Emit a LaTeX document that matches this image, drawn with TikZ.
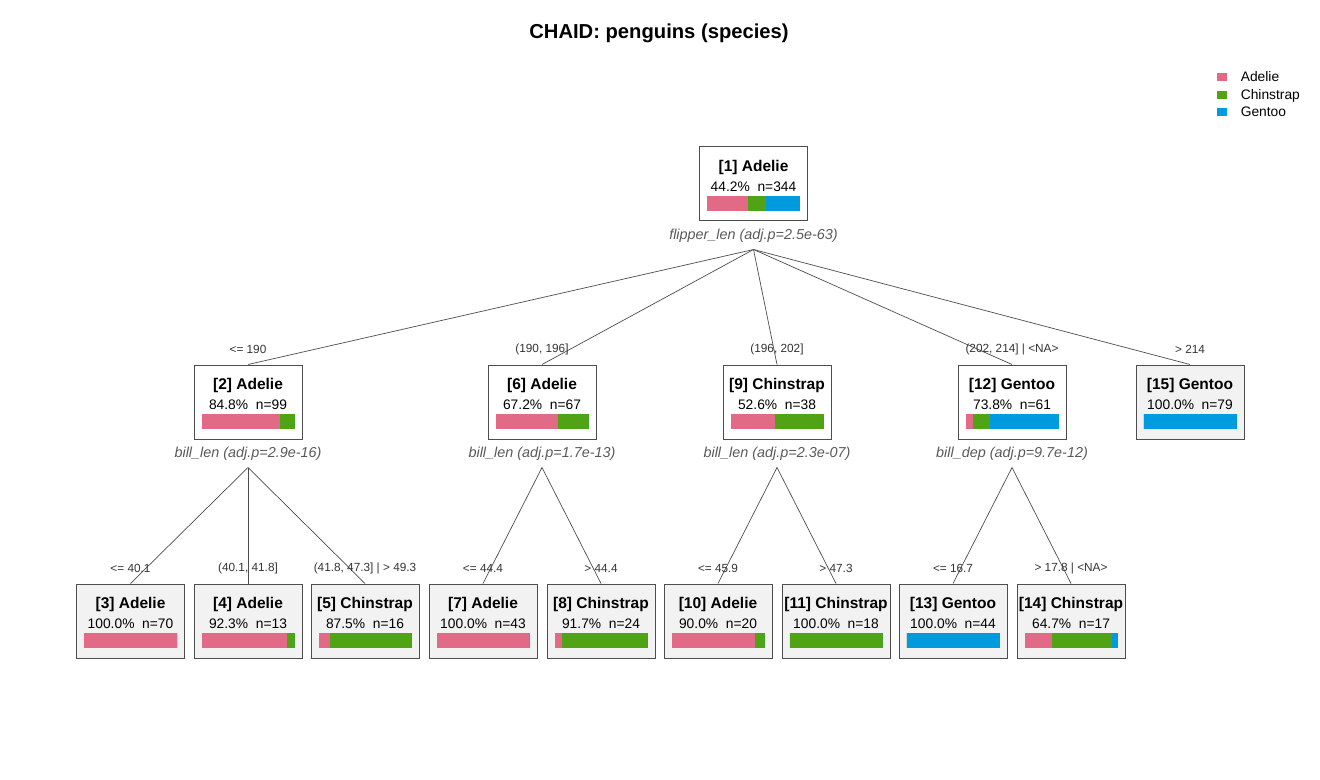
\documentclass[tikz,border=0pt]{standalone}
\usepackage{fontspec}
\setmainfont{Liberation Sans}
\usetikzlibrary{positioning}

\definecolor{adelie}{HTML}{E16A86}
\definecolor{chinstrap}{HTML}{50A315}
\definecolor{gentoo}{HTML}{009ADE}
\definecolor{leafgray}{HTML}{F2F2F2}
\definecolor{boxgray}{HTML}{4D4D4D}

% box with id line, stats line and class bar (counts adelie/chinstrap/gentoo)
\newcommand{\chaidnode}[8]{%
  \node[#2] (#1) at (#3) {};
  \node[ttl] (#1t) at ([yshift=-10.5pt]#1.north) {#4};
  \node[stat] (#1s) at ([yshift=-20.25pt]#1.north) {#5};
  \pgfmathsetmacro\chaidn{#6+#7+#8}
  \fill[adelie] ([xshift=4pt,yshift=-24.75pt]#1.north west) rectangle ++({46.5pt*#6/\chaidn},-7.5pt);
  \fill[chinstrap] ([xshift={4pt+46.5pt*#6/\chaidn},yshift=-24.75pt]#1.north west) rectangle ++({46.5pt*#7/\chaidn},-7.5pt);
  \fill[gentoo] ([xshift={4pt+46.5pt*(#6+#7)/\chaidn},yshift=-24.75pt]#1.north west) rectangle ++({46.5pt*#8/\chaidn},-7.5pt);
}

\begin{document}
\begin{tikzpicture}[x=0.5pt, y=-0.5pt,
    box/.style={rectangle, draw=boxgray, line width=0.5pt, fill=white, minimum width=54pt, minimum height=37pt, inner sep=0pt},
    leaf/.style={box, fill=leafgray},
    ttl/.style={font=\fontsize{7.75}{9}\selectfont\bfseries, inner sep=0pt},
    stat/.style={font=\fontsize{6.9}{8}\selectfont, inner sep=0pt},
    splitlab/.style={font=\fontsize{7.2}{8.5}\selectfont\itshape, text=black!65, inner sep=0pt},
    elab/.style={font=\fontsize{5.9}{7}\selectfont, text=black!80, inner sep=0pt},
    link/.style={draw=black!70, line width=0.35pt},
    key/.style={rectangle, minimum width=5pt, minimum height=4.4pt, inner sep=0pt},
    ltxt/.style={font=\fontsize{6.9}{8}\selectfont, inner sep=0pt, text height=4.9pt, text depth=0pt}
]

\useasboundingbox (0,0) rectangle (1320,780);

% title
\node[font=\fontsize{10.1}{12}\selectfont\bfseries] (title) at (659,33) {CHAID: penguins (species)};

% legend
\node[key, fill=adelie] (kad) at (1222,77) {};
\node[key, fill=chinstrap] (kch) at (1222,95) {};
\node[key, fill=gentoo] (kge) at (1222,112) {};
\node[ltxt, right=6.5pt of kad] (lad) {Adelie};
\node[ltxt, right=6.5pt of kch] (lch) {Chinstrap};
\node[ltxt, right=6.5pt of kge] (lge) {Gentoo};

% inner nodes
\chaidnode{n1}{box}{753.5,184}{[1] Adelie}{44.2\%~~n=344}{152}{68}{124}
\chaidnode{n2}{box}{248,402}{[2] Adelie}{84.8\%~~n=99}{84}{15}{0}
\chaidnode{n6}{box}{542,402}{[6] Adelie}{67.2\%~~n=67}{45}{22}{0}
\chaidnode{n9}{box}{777,402}{[9] Chinstrap}{52.6\%~~n=38}{18}{20}{0}
\chaidnode{n12}{box}{1012,402}{[12] Gentoo}{73.8\%~~n=61}{5}{11}{45}

% leaves
\chaidnode{n15}{leaf}{1190,402}{[15] Gentoo}{100.0\%~~n=79}{0}{0}{79}
\chaidnode{n3}{leaf}{130.5,621}{[3] Adelie}{100.0\%~~n=70}{70}{0}{0}
\chaidnode{n4}{leaf}{248,621}{[4] Adelie}{92.3\%~~n=13}{12}{1}{0}
\chaidnode{n5}{leaf}{365,621}{[5] Chinstrap}{87.5\%~~n=16}{2}{14}{0}
\chaidnode{n7}{leaf}{483,621}{[7] Adelie}{100.0\%~~n=43}{43}{0}{0}
\chaidnode{n8}{leaf}{601,621}{[8] Chinstrap}{91.7\%~~n=24}{2}{22}{0}
\chaidnode{n10}{leaf}{718,621}{[10] Adelie}{90.0\%~~n=20}{18}{2}{0}
\chaidnode{n11}{leaf}{836,621}{[11] Chinstrap}{100.0\%~~n=18}{0}{18}{0}
\chaidnode{n13}{leaf}{953,621}{[13] Gentoo}{100.0\%~~n=44}{0}{0}{44}
\chaidnode{n14}{leaf}{1071,621}{[14] Chinstrap}{64.7\%~~n=17}{5}{11}{1}

% split variables
\node[splitlab] (s1) at ([yshift=-7pt]n1.south) {flipper\_len (adj.p=2.5e-63)};
\node[splitlab] (s2) at ([yshift=-7pt]n2.south) {bill\_len (adj.p=2.9e-16)};
\node[splitlab] (s6) at ([yshift=-7pt]n6.south) {bill\_len (adj.p=1.7e-13)};
\node[splitlab] (s9) at ([yshift=-7pt]n9.south) {bill\_len (adj.p=2.3e-07)};
\node[splitlab] (s12) at ([yshift=-7pt]n12.south) {bill\_dep (adj.p=9.7e-12)};
\coordinate (b1) at ([yshift=-14pt]n1.south);
\coordinate (b2) at ([yshift=-14pt]n2.south);
\coordinate (b6) at ([yshift=-14pt]n6.south);
\coordinate (b9) at ([yshift=-14pt]n9.south);
\coordinate (b12) at ([yshift=-14pt]n12.south);

% edges
\draw[link] (b1) -- (n2.north);
\draw[link] (b1) -- (n6.north);
\draw[link] (b1) -- (n9.north);
\draw[link] (b1) -- (n12.north);
\draw[link] (b1) -- (n15.north);
\draw[link] (b2) -- (n3.north);
\draw[link] (b2) -- (n4.north);
\draw[link] (b2) -- (n5.north);
\draw[link] (b6) -- (n7.north);
\draw[link] (b6) -- (n8.north);
\draw[link] (b9) -- (n10.north);
\draw[link] (b9) -- (n11.north);
\draw[link] (b12) -- (n13.north);
\draw[link] (b12) -- (n14.north);

% edge labels
\node[elab] (e2) at ([yshift=7.5pt]n2.north) {<= 190};
\node[elab] (e6) at ([yshift=7.5pt]n6.north) {(190, 196]};
\node[elab] (e9) at ([yshift=7.5pt]n9.north) {(196, 202]};
\node[elab] (e12) at ([yshift=7.5pt]n12.north) {(202, 214] | <NA>};
\node[elab] (e15) at ([yshift=7.5pt]n15.north) {> 214};
\node[elab] (e3) at ([yshift=7.5pt]n3.north) {<= 40.1};
\node[elab] (e4) at ([yshift=7.5pt]n4.north) {(40.1, 41.8]};
\node[elab] (e5) at ([yshift=7.5pt]n5.north) {(41.8, 47.3] | > 49.3};
\node[elab] (e7) at ([yshift=7.5pt]n7.north) {<= 44.4};
\node[elab] (e8) at ([yshift=7.5pt]n8.north) {> 44.4};
\node[elab] (e10) at ([yshift=7.5pt]n10.north) {<= 45.9};
\node[elab] (e11) at ([yshift=7.5pt]n11.north) {> 47.3};
\node[elab] (e13) at ([yshift=7.5pt]n13.north) {<= 16.7};
\node[elab] (e14) at ([yshift=7.5pt]n14.north) {> 17.8 | <NA>};

\end{tikzpicture}
\end{document}
